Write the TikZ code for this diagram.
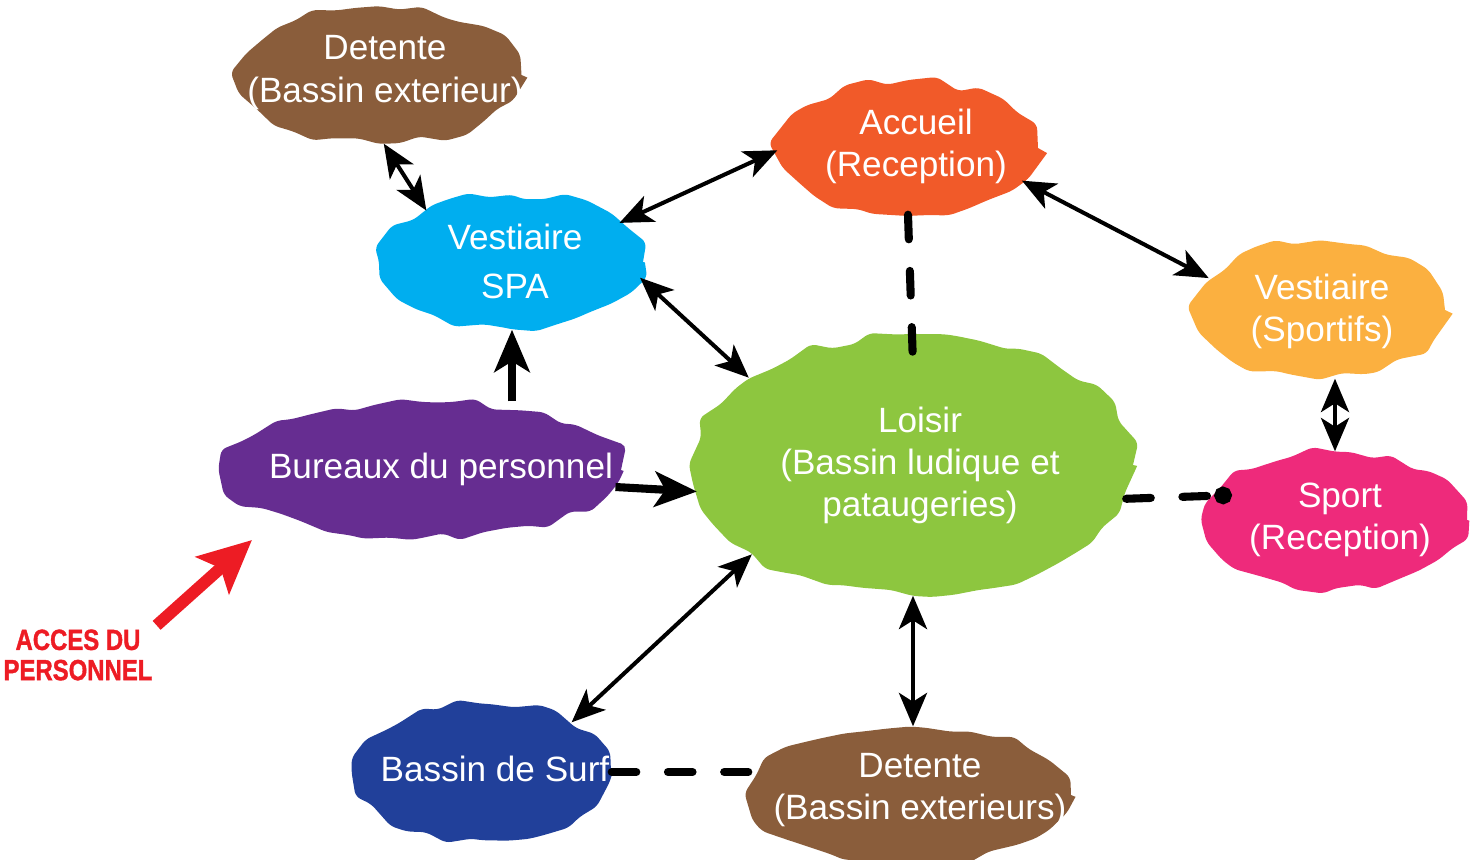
\documentclass[tikz,border=0pt]{standalone}
\usepackage{fontspec}
\setmainfont{Liberation Sans}
\newfontfamily\accesfont{Liberation Sans}[FakeStretch=0.82, FakeBold=1.2]
\usetikzlibrary{positioning, arrows.meta, shapes.geometric, decorations.pathmorphing}

\definecolor{brun}{HTML}{8A5D3B}
\definecolor{orangeacc}{HTML}{F15A29}
\definecolor{bleuspa}{HTML}{00AEEF}
\definecolor{orangevest}{HTML}{FBB040}
\definecolor{violet}{HTML}{662D91}
\definecolor{vert}{HTML}{8DC63F}
\definecolor{rose}{HTML}{EE2A7B}
\definecolor{marine}{HTML}{21409A}
\definecolor{rouge}{HTML}{ED1C24}

\begin{document}
\begin{tikzpicture}[
    blob/.style={ellipse, fill=#1, inner sep=0pt, rounded corners=1.5pt, decorate,
        decoration={random steps, segment length=6pt, amplitude=1.5pt}},
    lbl/.style={text=white, align=center, font=\fontsize{10}{12}\selectfont},
    lien/.style={line width=1.15pt, {Stealth[length=9.5pt,width=8pt,inset=2.5pt]}-{Stealth[length=9.5pt,width=8pt,inset=2.5pt]}},
    fleche/.style={line width=2.3pt, -{Stealth[length=12pt,width=10pt,inset=3pt]}},
    tirets/.style={line width=2.3pt, dash pattern=on 7pt off 9pt, line cap=round}]
        \pgfmathsetseed{7}
        \useasboundingbox (0,0) rectangle (14.74,8.59);
        % Blobs
        \node[blob=brun, minimum width=2.85cm, minimum height=1.36cm] (detHaut) at (3.79,7.84) {};
        \node[blob=orangeacc, minimum width=2.6cm, minimum height=1.32cm] (accueil) at (9.08,7.11) {};
        \node[blob=bleuspa, minimum width=2.62cm, minimum height=1.34cm] (spa) at (5.12,5.97) {};
        \node[blob=orangevest, minimum width=2.5cm, minimum height=1.36cm] (vestSport) at (13.2,5.49) {};
        \node[blob=violet, minimum width=4.0cm, minimum height=1.36cm] (bureaux) at (4.21,3.89) {};
        \node[blob=vert, minimum width=4.4cm, minimum height=2.6cm] (loisir) at (9.13,3.94) {};
        \node[blob=rose, minimum width=2.64cm, minimum height=1.36cm] (sport) at (13.35,3.39) {};
        \node[blob=marine, minimum width=2.58cm, minimum height=1.36cm] (surf) at (4.82,0.87) {};
        \node[blob=brun, minimum width=3.22cm, minimum height=1.36cm] (detBas) at (9.1,0.64) {};
        % Labels
        \node[lbl] (tDetHaut) at (3.85,7.865) {Detente\\(Bassin exterieur)};
        \node[lbl] (tAccueil) at (9.16,7.13) {Accueil\\(Reception)};
        \node[lbl] (tSpa) at (5.15,5.975) {Vestiaire\\[2pt]SPA};
        \node[lbl] (tVestSport) at (13.22,5.48) {Vestiaire\\(Sportifs)};
        \node[lbl] (tBureaux) at (4.41,3.90) {Bureaux du personnel};
        \node[lbl] (tLoisir) at (9.2,3.935) {Loisir\\(Bassin ludique et\\pataugeries)};
        \node[lbl] (tSport) at (13.4,3.39) {Sport\\(Reception)};
        \node[lbl] (tSurf) at (4.95,0.90) {Bassin de Surf};
        \node[lbl] (tDetBas) at (9.2,0.69) {Detente\\(Bassin exterieurs)};
        \node[text=rouge, align=center, inner sep=1pt, font=\fontsize{8.3}{8.6}\accesfont\bfseries] (acces) at (0.78,2.04) {ACCES DU\\PERSONNEL};
        \coordinate (entree) at (2.52,3.19);
        % Connectors
        \draw[lien] (detHaut.-86) -- (spa.149);
        \draw[lien] (spa.20) -- (accueil.181);
        \draw[lien] (spa.-7) -- (loisir.152);
        \draw[fleche] (bureaux.north -| spa.south) -- (spa.south);
        \draw[fleche] (bureaux.-5) -- (loisir.187);
        \draw[tirets] (accueil.south) -- ([yshift=-0.3cm]loisir.north);
        \draw[lien] (accueil.-16) -- (vestSport.164);
        \draw[lien] (vestSport.south -| sport.north) -- (sport.north);
        \draw[tirets, -{Circle[length=5pt]}, shorten >=-6pt] (loisir.-9) -- (sport.169);
        \draw[lien] (loisir.209) -- (surf.29);
        \draw[lien] (loisir.south) -- (detBas.north -| loisir.south);
        \draw[tirets] (surf.east) -- (detBas.west |- surf.east);
        \draw[rouge, line width=3.4pt, -{Stealth[length=15pt,width=14pt,inset=3pt]}] (acces.north east) -- (entree);
    \end{tikzpicture}
\end{document}
